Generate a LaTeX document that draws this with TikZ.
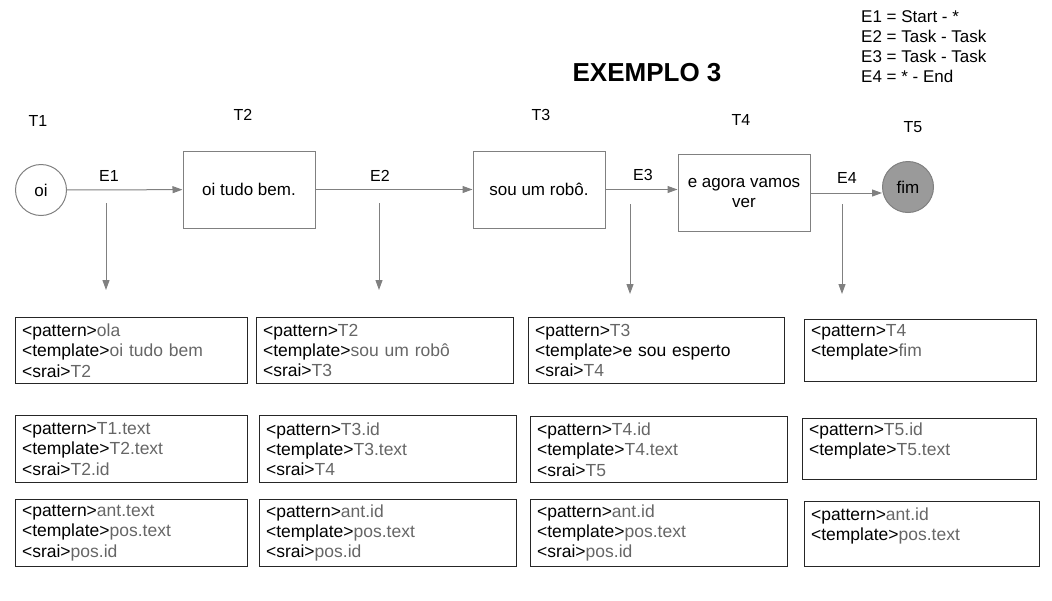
\documentclass[tikz,border=0pt]{standalone}
\usepackage{fontspec}
\setmainfont{Liberation Sans}
\usetikzlibrary{arrows.meta}

\definecolor{linegray}{HTML}{808080}
\definecolor{valgray}{HTML}{666666}
\definecolor{fimgray}{HTML}{9A9A9A}
\newcommand{\tval}[1]{\textcolor{valgray}{#1}}

\tikzset{
	task/.style={draw=linegray, line width=1pt, minimum width=132, minimum height=77, inner sep=2pt, align=center, font=\fontsize{17}{20}\selectfont},
	endpt/.style={circle, draw=linegray, line width=1pt, minimum size=51, inner sep=0pt, font=\fontsize{17}{20}\selectfont},
	tag/.style={font=\fontsize{16}{19}\selectfont},
	flow/.style={draw=linegray, line width=1pt, -{Triangle[length=10pt,width=7pt]}},
	aiml/.style={draw=black!85, line width=1.1pt, anchor=north west, align=left, inner xsep=6.5pt, inner ysep=0pt, font=\fontsize{17.5}{20.3}\selectfont}
}

\begin{document}
\begin{tikzpicture}[x=1pt,y=-1pt]
		\useasboundingbox (0,0) rectangle (1052,600);

		% title and legend
		\node [font=\fontsize{26}{30}\bfseries] (title) at (647,73) {EXEMPLO 3};
		\node [anchor=north west, align=left, inner sep=0pt, font=\fontsize{17}{20}\selectfont] (legend) at (861,10)
			{E1 = Start - *\\E2 = Task - Task\\E3 = Task - Task\\E4 = * - End};

		% tasks
		\node [endpt] (t1) at (41,190) {oi};
		\node [task] (t2) at (249,189.5) {oi tudo bem.};
		\node [task] (t3) at (539,189.5) {sou um robô.};
		\node [task] (t4) at (744,193) {e agora vamos\\ver};
		\node [endpt, fill=fimgray] (t5) at (908,187) {fim};

		\node [tag] (lt1) at (38,121) {T1};
		\node [tag] (lt2) at (243,115) {T2};
		\node [tag] (lt3) at (541,115) {T3};
		\node [tag] (lt4) at (741,120) {T4};
		\node [tag] (lt5) at (913,127) {T5};

		% edges
		\draw [flow] (t1) -- (t2);
		\draw [flow] (t2) -- (t3);
		\draw [flow] (t3.east) -- (t3.east -| t4.west);
		\draw [flow] (t4.east) -- (t4.east -| t5.west);

		\node [tag] (le1) at (109,176) {E1};
		\node [tag] (le2) at (380,176) {E2};
		\node [tag] (le3) at (643,175) {E3};
		\node [tag] (le4) at (847,178) {E4};

		\coordinate (e1a) at (106,203);  \coordinate (e1b) at (106,290);
		\coordinate (e2a) at (379,203);  \coordinate (e2b) at (379,290);
		\coordinate (e3a) at (630,204);  \coordinate (e3b) at (630,294);
		\coordinate (e4a) at (842,204);  \coordinate (e4b) at (842,294);
		\draw [flow] (e1a) -- (e1b);
		\draw [flow] (e2a) -- (e2b);
		\draw [flow] (e3a) -- (e3b);
		\draw [flow] (e4a) -- (e4b);

		% categories, first row
		\node [aiml, text width=219, minimum height=66] (c11) at (15,317)
			{<pattern>\tval{ola}\\<template>\tval{oi tudo bem}\\<srai>\tval{T2}};
		\node [aiml, text width=244, minimum height=66] (c21) at (256,317)
			{<pattern>\tval{T2}\\<template>\tval{sou um robô}\\<srai>\tval{T3}};
		\node [aiml, text width=243, minimum height=66] (c31) at (528,317)
			{<pattern>\tval{T3}\\<template>e sou esperto\\<srai>\tval{T4}};
		\node [aiml, text width=219, minimum height=62] (c41) at (804,319)
			{<pattern>\tval{T4}\\<template>\tval{fim}\\\mbox{}};

		% categories, second row
		\node [aiml, text width=219, minimum height=67] (c12) at (15,415)
			{<pattern>\tval{T1.text}\\<template>\tval{T2.text}\\<srai>\tval{T2.id}};
		\node [aiml, text width=244, minimum height=67] (c22) at (259,415)
			{<pattern>\tval{T3.id}\\<template>\tval{T3.text}\\<srai>\tval{T4}};
		\node [aiml, text width=244, minimum height=66] (c32) at (530,416)
			{<pattern>\tval{T4.id}\\<template>\tval{T4.text}\\<srai>\tval{T5}};
		\node [aiml, text width=221, minimum height=61] (c42) at (802,418)
			{<pattern>\tval{T5.id}\\<template>\tval{T5.text}\\\mbox{}};

		% categories, third row
		\node [aiml, text width=219, minimum height=67] (c13) at (15,499)
			{<pattern>\tval{ant.text}\\<template>\tval{pos.text}\\<srai>\tval{pos.id}};
		\node [aiml, text width=244, minimum height=67] (c23) at (259,499)
			{<pattern>\tval{ant.id}\\<template>\tval{pos.text}\\<srai>\tval{pos.id}};
		\node [aiml, text width=244, minimum height=67] (c33) at (530,499)
			{<pattern>\tval{ant.id}\\<template>\tval{pos.text}\\<srai>\tval{pos.id}};
		\node [aiml, text width=222, minimum height=65] (c43) at (804,501)
			{<pattern>\tval{ant.id}\\<template>\tval{pos.text}\\\mbox{}};
	\end{tikzpicture}
\end{document}
